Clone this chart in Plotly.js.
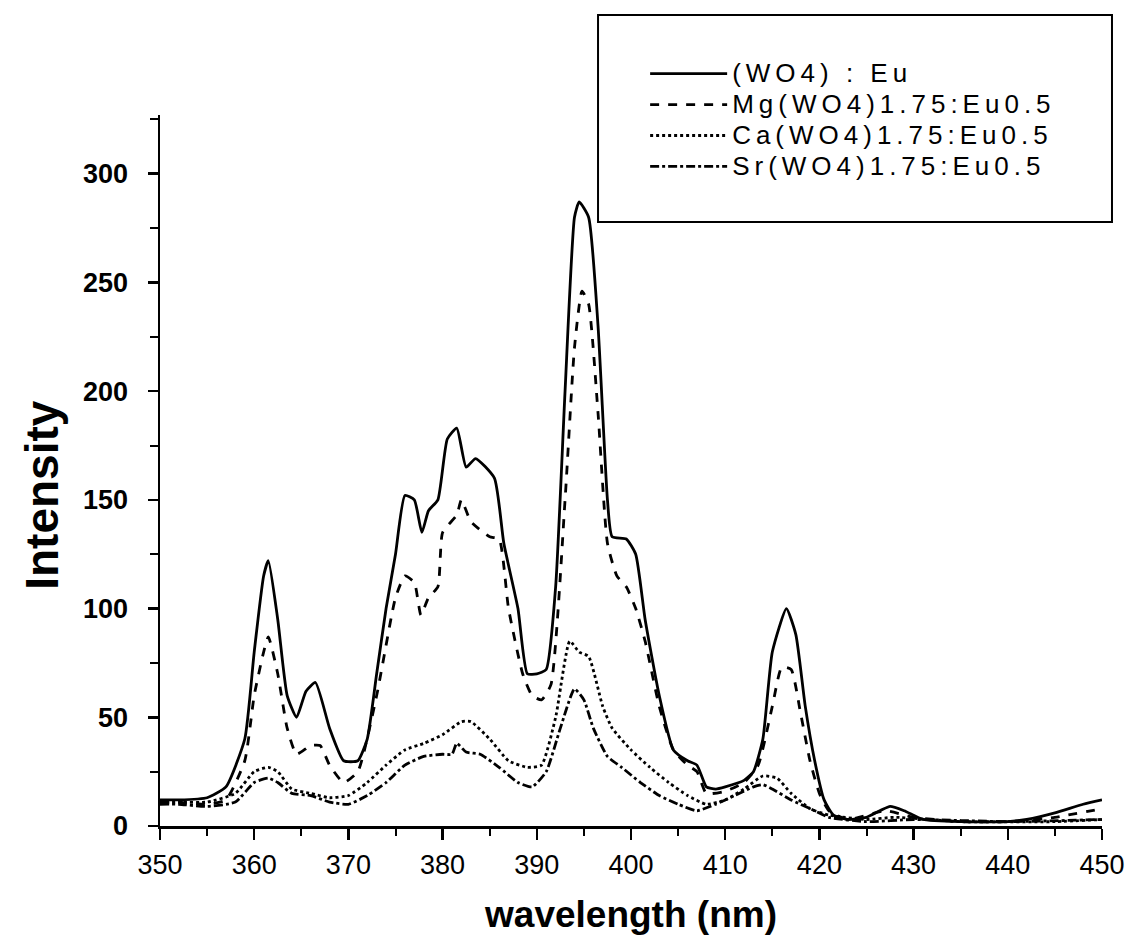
<!DOCTYPE html>
<html>
<head>
<meta charset="utf-8">
<script src="https://cdn.plot.ly/plotly-3.0.1.min.js"></script>
<style>
html,body{margin:0;padding:0;background:#fff;}
#chart{width:1129px;height:944px;}
.legendtext{letter-spacing:5px;font-size:26px !important;}
</style>
</head>
<body>
<div id="chart"></div>
<script>
// Series names
const seriesNames = ["(WO4) : Eu", "Mg(WO4)1.75:Eu0.5", "Ca(WO4)1.75:Eu0.5", "Sr(WO4)1.75:Eu0.5"];

// (WO4):Eu  (solid)
const wlEu = [350,352,355,357,359,360,361,361.5,362.5,363.5,364.5,365.5,366.5,368,369.5,371,372,373,374,375,376,377,377.8,378.5,379.5,380.5,381.5,382.5,383.5,385.5,386.5,388,389,390,391,392,393,394,394.5,395.5,396.5,397.5,398,399.5,400.5,401.5,403,404.5,406,407,408,409,410,412,413,414,415,416.5,417.5,418.5,419.5,420.5,421.5,423,425,427.5,429,431,435,440,442,445,448,450];
const intEu = [12,12,13,18,40,80,115,122,95,60,50,62,66,45,30,30,40,70,100,125,152,150,135,145,150,178,183,165,169,160,130,100,70,70,72,110,200,280,287,280,230,150,133,132,125,95,60,35,30,28,18,17,18,21,25,40,80,100,88,55,30,12,5,3,4,9,7,3,2,2,3,6,10,12];

// Mg(WO4)1.75:Eu0.5  (dashed)
const wlMg = [350,352,355,357,359,360,361,361.5,362.5,363.5,364.5,366,367,368,369.5,371,373,375,376,377,377.7,378.5,379.5,380,381.5,382,383,385,386,387,388.5,389.5,390.5,391.5,393,394,394.8,395.5,396.5,397.5,398.5,399.5,400.5,401.5,403,404.5,406,407,408,410,412,413.5,415,416,417,418,419,420,421,423,427,430,435,440,445,450];
const intMg = [11,11,10,12,30,60,80,87,70,45,33,37,37,28,20,25,60,105,115,112,97,105,110,135,143,150,140,133,132,100,70,60,58,65,150,220,246,240,190,130,115,110,100,85,55,35,28,25,15,16,20,28,55,73,72,52,30,15,7,3,7,4,2,2,4,8];

// Ca(WO4)1.75:Eu0.5  (dotted)
const wlCa = [350,352,355,358,360,361.5,362.5,364,366,368,370,372,374,376,378,380,382,383,385,387,389,390.5,392,393.5,394.5,395.5,397,398,400,402,404,406,408,410,412,414,415.5,417,419,421,425,428,435,445,450];
const intCa = [11,11,11,15,25,27,25,17,15,13,14,20,28,35,38,42,48,48,40,30,27,28,50,85,80,78,55,45,35,27,20,14,10,12,17,23,22,15,8,5,3,4,2,2,3];

// Sr(WO4)1.75:Eu0.5  (dash-dot)
const wlSr = [350,352,355,358,360,361.5,362.5,364,366,368,370,372,374,376,378,380,381,381.5,382.5,384,386,388,389.5,391,392.5,394,395,396,397.5,399,401,403,405,407,409,411,413,414,415,417,419,421,425,430,440,450];
const intSr = [10,10,9,11,20,22,20,15,14,11,10,14,20,28,32,33,33,38,34,33,27,20,18,25,45,63,58,45,32,27,20,14,10,7,10,14,18,19,17,12,8,4,2,3,2,3];

// Axis ticks
const xTicks = [350,360,370,380,390,400,410,420,430,440,450];
const yTicks = [0,50,100,150,200,250,300];

const xs = [wlEu, wlMg, wlCa, wlSr];
const ys = [intEu, intMg, intCa, intSr];
const dashes = ["solid", "dash", "dot", "dashdot"];

const traces = seriesNames.map((n, i) => ({
  x: xs[i], y: ys[i], name: n, type: "scatter", mode: "lines",
  line: {color: "#000", width: 2.8, dash: dashes[i], shape: "spline", smoothing: 0.5}
}));

const FONT = "Liberation Sans, Arial, sans-serif";

const layout = {
  width: 1129, height: 944,
  margin: {l: 160, r: 27, t: 115, b: 118},
  paper_bgcolor: "#fff", plot_bgcolor: "#fff",
  font: {family: FONT, color: "#000"},
  showlegend: true,
  legend: {
    x: 0.515, y: 1.087, xanchor: "left", yanchor: "top",
    bgcolor: "rgba(0,0,0,0)", borderwidth: 0, itemwidth: 77,
    font: {size: 21.5, family: FONT, color: "#000"},
    tracegroupgap: 0
  },
  shapes: [{
    type: "rect", xref: "paper", yref: "paper",
    x0: 0.465, x1: 1.0106, y0: 0.8495, y1: 1.1406,
    line: {color: "#000", width: 2}, fillcolor: "rgba(0,0,0,0)"
  }],
  annotations: [{
    text: "Intensity", xref: "paper", yref: "paper", x: -0.1255, y: 0.4655,
    xanchor: "center", yanchor: "middle", textangle: -90, showarrow: false,
    font: {size: 46, weight: "bold", family: FONT, color: "#000"}
  }],
  xaxis: {
    range: [350, 450], tickvals: xTicks, ticktext: xTicks.map(String),
    showgrid: false, zeroline: false, showline: true, linecolor: "#000", linewidth: 2.5,
    ticks: "outside", ticklen: 11, tickwidth: 2.5, tickcolor: "#000",
    minor: {dtick: 5, ticks: "outside", ticklen: 7, tickwidth: 2, tickcolor: "#000"},
    tickfont: {size: 27, family: FONT},
    ticklabelstandoff: 2,
    title: {text: "wavelength (nm)", font: {size: 37, weight: "bold", family: FONT}, standoff: 22},
    automargin: false
  },
  yaxis: {
    range: [0, 327], tickvals: yTicks, ticktext: yTicks.map(String),
    showgrid: false, zeroline: false, showline: true, linecolor: "#000", linewidth: 2.5,
    ticks: "outside", ticklen: 10, tickwidth: 2.5, tickcolor: "#000",
    minor: {dtick: 25, ticks: "outside", ticklen: 8, tickwidth: 2, tickcolor: "#000"},
    tickfont: {size: 27, weight: "bold", family: FONT},
    ticklabelstandoff: 14,
    automargin: false
  }
};

Plotly.newPlot("chart", traces, layout, {displayModeBar: false, staticPlot: true});
</script>
</body>
</html>
